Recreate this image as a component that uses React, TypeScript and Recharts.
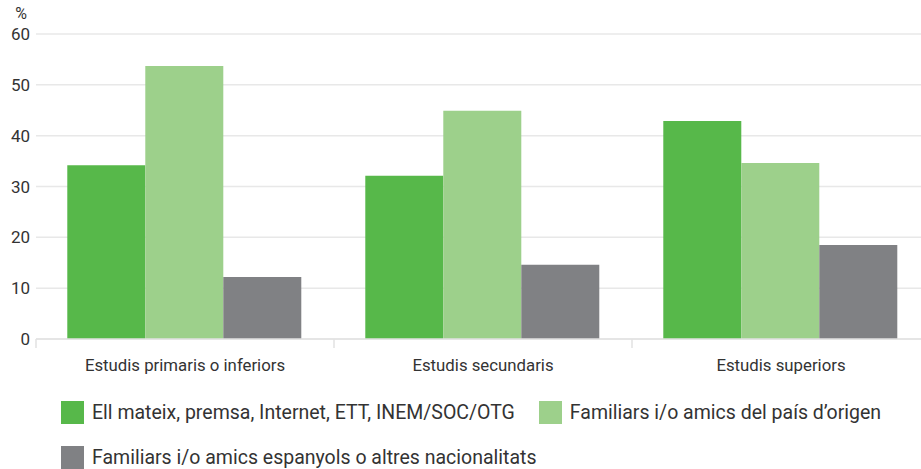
import React from 'react';
import { BarChart, Bar, XAxis, YAxis, CartesianGrid, Label } from 'recharts';

const categories = ['Estudis primaris o inferiors', 'Estudis secundaris', 'Estudis superiors'];
const seriesNames = [
  'Ell mateix, premsa, Internet, ETT, INEM/SOC/OTG',
  'Familiars i/o amics del país d’origen',
  'Familiars i/o amics espanyols o altres nacionalitats',
];
const selfSearch = [34.2, 32.1, 42.9];
const originFriends = [53.7, 44.9, 34.6];
const spanishFriends = [12.2, 14.6, 18.5];
const yTicks = [0, 10, 20, 30, 40, 50, 60];

const colors = ['#57b84a', '#9dd08b', '#808184'];
const keys = ['self', 'origin', 'spanish'];

const data = categories.map((c, i) => ({
  name: c,
  self: selfSearch[i],
  origin: originFriends[i],
  spanish: spanishFriends[i],
}));

const FONT = 'Roboto, "Noto Sans", sans-serif';
const CHART_W = 930;
const Y_W = 36;
const HALF_BAND = (CHART_W - Y_W) / categories.length / 2;

const CategoryTick = (props: any) => {
  const { x, y, payload, index } = props;
  const last = index === categories.length - 1;
  return (
    <g>
      <line x1={x - HALF_BAND} x2={x - HALF_BAND} y1={y - 8} y2={y + 1} stroke="#e2e2e2" strokeWidth={1.5} />
      {last && (
        <line x1={x + HALF_BAND} x2={x + HALF_BAND} y1={y - 8} y2={y + 1} stroke="#e2e2e2" strokeWidth={1.5} />
      )}
      <text x={x} y={y + 24} textAnchor="middle" fill="#333" fontSize={16.8} fontFamily={FONT}>
        {payload.value}
      </text>
    </g>
  );
};

export default function App() {
  return (
    <div style={{ position: 'absolute', top: 0, left: 0, width: 921, height: 469, overflow: 'hidden', background: '#fff', fontFamily: FONT }}>
      <BarChart
        width={CHART_W}
        height={385}
        data={data}
        margin={{ top: 34, right: 0, left: 0, bottom: 0 }}
        barCategoryGap="10.5%"
        barGap={0}
      >
        <CartesianGrid vertical={false} stroke="#e8e8e8" strokeWidth={1.5} />
        <XAxis
          dataKey="name"
          height={46}
          axisLine={{ stroke: '#e2e2e2', strokeWidth: 1.5 }}
          tickLine={false}
          tick={<CategoryTick />}
          interval={0}
        />
        <YAxis
          width={Y_W}
          domain={[0, 60]}
          ticks={yTicks}
          axisLine={false}
          tickLine={false}
          tickSize={6}
          tickMargin={0}
          tick={{ fill: '#333', fontSize: 17, fontFamily: FONT }}
        >
          <Label value="%" position="top" offset={15} dx={3} fill="#333" fontSize={16} fontFamily={FONT} />
        </YAxis>
        {keys.map((k, i) => (
          <Bar key={k} dataKey={k} name={seriesNames[i]} fill={colors[i]} isAnimationActive={false} />
        ))}
      </BarChart>
      <div
        style={{
          position: 'absolute',
          top: 401,
          left: 61,
          width: 845,
          display: 'flex',
          flexWrap: 'wrap',
          rowGap: 22,
          columnGap: 24,
        }}
      >
        {seriesNames.map((n, i) => (
          <div key={n} style={{ display: 'flex', alignItems: 'center', height: 23 }}>
            <div style={{ width: 23, height: 23, background: colors[i], marginRight: 8 }} />
            <span style={{ fontSize: 19.5, color: '#333', whiteSpace: 'nowrap' }}>{n}</span>
          </div>
        ))}
      </div>
    </div>
  );
}
